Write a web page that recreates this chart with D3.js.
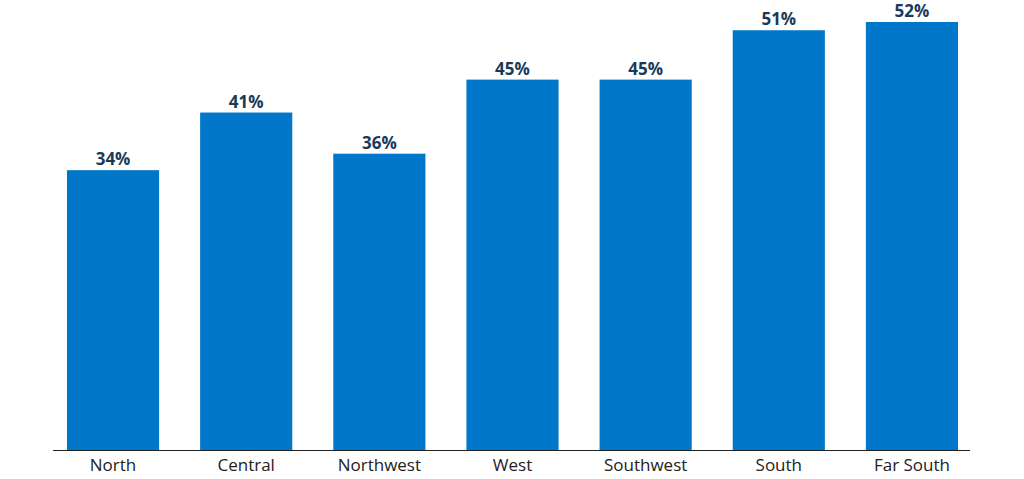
<!DOCTYPE html>
<html><head><meta charset="utf-8">
<script src="https://cdn.jsdelivr.net/npm/d3@7"></script>
<style>body{margin:0;background:#fff}</style></head>
<body><svg id="c" width="1024" height="479"></svg>
<script>
const categories=["North","Central","Northwest","West","Southwest","South","Far South"];
const values=[34,41,36,45,45,51,52];
const svg=d3.select("#c");
const base=450;
const x=d3.scaleBand().domain(categories).range([47,978]).paddingInner(0.308).paddingOuter(0.15);
const y=d3.scaleLinear().domain([0,52]).range([base,22]);
svg.selectAll("rect.b").data(values).join("rect")
 .attr("x",(d,i)=>x(categories[i])).attr("width",x.bandwidth())
 .attr("y",d=>y(d)).attr("height",d=>base-y(d)).attr("fill","#0077c8");
svg.selectAll("text.v").data(values).join("text")
 .attr("x",(d,i)=>x(categories[i])+x.bandwidth()/2).attr("y",d=>y(d)-5)
 .attr("text-anchor","middle").attr("font-family","Open Sans").attr("font-weight","bold")
 .attr("font-size",17).attr("fill","#1b3a5a").text(d=>d+"%");
const ax=svg.append("g").attr("transform",`translate(0,${base})`)
 .call(d3.axisBottom(x).tickSize(0).tickPadding(9));
ax.select(".domain").remove();
ax.selectAll("text").attr("font-family","Open Sans").attr("font-size",17).attr("fill","#222");
svg.append("line").attr("x1",53).attr("x2",970).attr("y1",base+0.5).attr("y2",base+0.5).attr("stroke","#222").attr("stroke-width",1);
</script></body></html>
